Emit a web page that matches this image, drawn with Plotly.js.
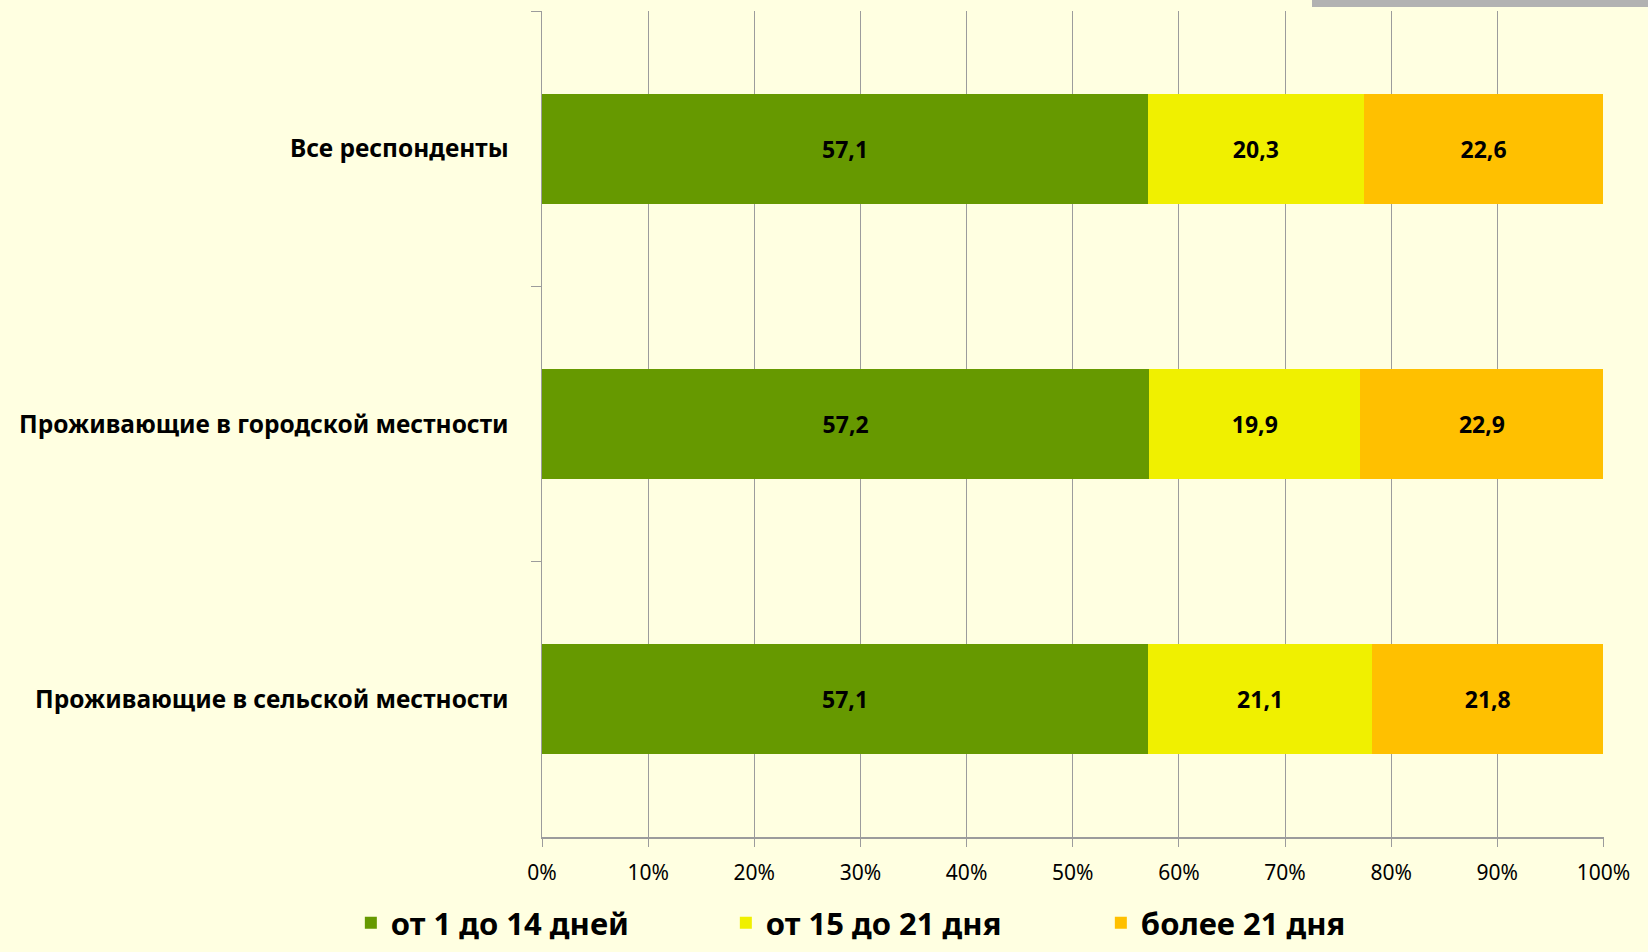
<!DOCTYPE html>
<html><head><meta charset="utf-8">
<script src="https://cdn.plot.ly/plotly-3.0.1.min.js"></script>
<style>
html,body{margin:0;padding:0;background:#FFFFE1;}
#chart{width:1648px;height:952px;position:absolute;left:0;top:0;}
#topbar{position:absolute;left:1312px;top:0;width:336px;height:7px;background:#b2b2b2;}
</style>
</head><body>
<div id="chart"></div><div id="topbar"></div>
<script>
const categories = ['Все респонденты', 'Проживающие в городской местности', 'Проживающие в сельской местности'];
const seriesNames = ['от 1 до 14 дней', 'от 15 до 21 дня', 'более 21 дня'];
const days1to14 = [57.1, 57.2, 57.1];
const days15to21 = [20.3, 19.9, 21.1];
const daysOver21 = [22.6, 22.9, 21.8];
const xTickVals = [0, 10, 20, 30, 40, 50, 60, 70, 80, 90, 100];
const xTickText = ['0%', '10%', '20%', '30%', '40%', '50%', '60%', '70%', '80%', '90%', '100%'];

const colors = ['#669900', '#F0F000', '#FFC000'];
const seriesValues = [days1to14, days15to21, daysOver21];
const FONT = 'Noto Sans, Open Sans, sans-serif';

const traces = seriesValues.map((vals, i) => ({
  type: 'bar',
  orientation: 'h',
  name: seriesNames[i],
  y: categories,
  x: vals,
  marker: {color: colors[i], line: {width: 0}},
  texttemplate: '%{x:.1f}',
  textposition: 'inside',
  insidetextanchor: 'middle',
  textangle: 0,
  constraintext: 'none',
  textfont: {family: FONT, size: 23, color: '#000000', weight: 'bold'},
  hoverinfo: 'skip'
}));

const layout = {
  width: 1648, height: 952,
  paper_bgcolor: '#FFFFE1', plot_bgcolor: '#FFFFE1',
  margin: {l: 542, r: 44, t: 11, b: 115, autoexpand: false},
  barmode: 'stack',
  bargap: 0.6,
  uniformtext: {mode: false},
  separators: ', ',
  showlegend: true,
  legend: {
    orientation: 'h', x: -0.18, xref: 'paper', xanchor: 'left',
    y: -0.137, yanchor: 'bottom',
    font: {family: FONT, size: 31, color: '#000000', weight: 'bold'},
    bgcolor: 'rgba(0,0,0,0)', traceorder: 'normal',
    entrywidth: 330
  },
  xaxis: {
    range: [0, 100.05], fixedrange: true,
    tickvals: xTickVals, ticktext: xTickText,
    showgrid: true, gridcolor: '#9c9c9c', gridwidth: 1,
    zeroline: false,
    showline: true, linecolor: '#9c9c9c', linewidth: 1.5,
    ticks: 'outside', ticklen: 8, tickcolor: '#9c9c9c', tickwidth: 1,
    tickfont: {family: FONT, size: 21, color: '#000000'},
    ticklabelstandoff: 8
  },
  yaxis: {
    type: 'category',
    categoryorder: 'array', categoryarray: categories,
    autorange: 'reversed', fixedrange: true,
    showgrid: false, zeroline: false,
    showline: true, linecolor: '#9c9c9c', linewidth: 1.5,
    ticks: 'outside', tickson: 'boundaries', ticklen: 10, tickcolor: '#9c9c9c', tickwidth: 1,
    tickfont: {family: FONT, size: 24.5, color: '#000000', weight: 'bold'},
    ticklabelstandoff: 27
  }
};

Plotly.newPlot('chart', traces, layout, {displayModeBar: false, staticPlot: true});
</script>
</body></html>
